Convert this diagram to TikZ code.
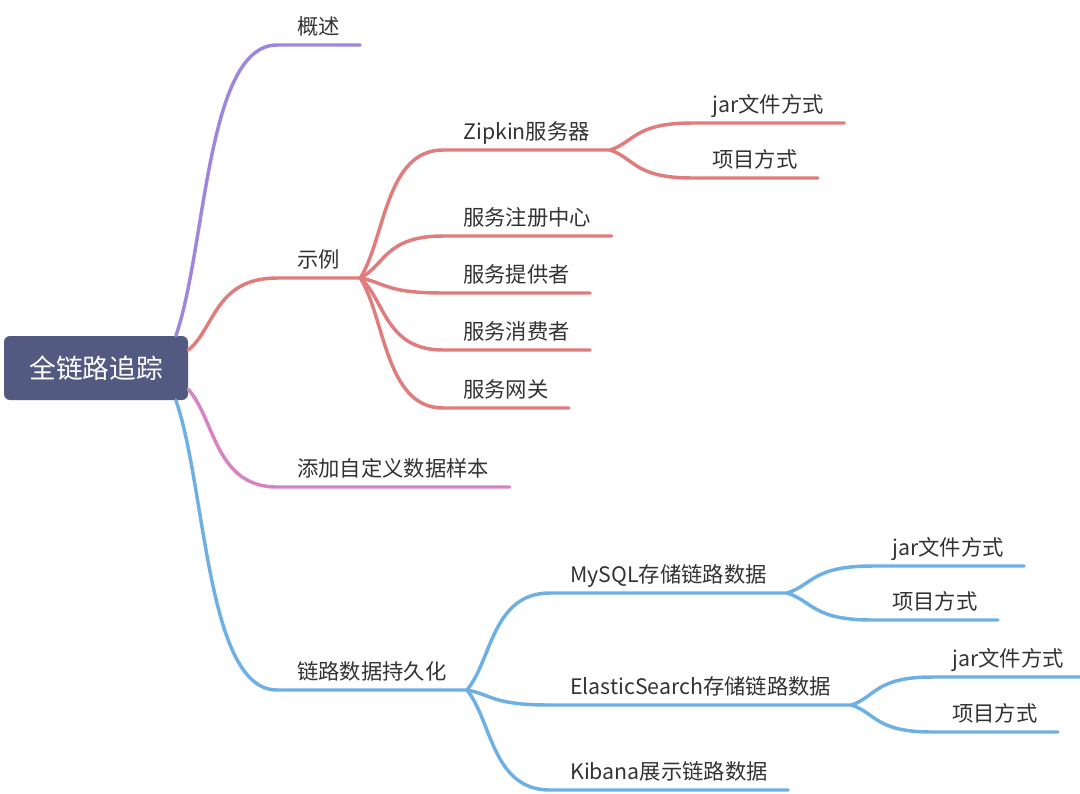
\documentclass[tikz,border=0pt]{standalone}
\usepackage{fontspec}
\setmainfont{Noto Sans CJK SC}
\usepackage{tikz}
\usetikzlibrary{calc, positioning}

\definecolor{rootblue}{RGB}{83,90,130}
\definecolor{brpurple}{RGB}{157,135,222}
\definecolor{brred}{RGB}{224,124,124}
\definecolor{brpink}{RGB}{217,130,195}
\definecolor{brblue}{RGB}{110,176,227}
\definecolor{txtgray}{RGB}{51,51,51}

\tikzset{
    % root box and the underlined topics
    rootbox/.style = {rectangle, rounded corners=4.5pt, fill=rootblue, text=white, minimum width=138pt, minimum height=48pt, font=\fontsize{20pt}{24pt}\selectfont},
    topic/.style = {anchor=south west, inner xsep=15pt, inner ysep=8pt, text depth=0pt, text=txtgray, font=\fontsize{16pt}{19pt}\selectfont},
    branch/.style = {line width=2.6pt, line cap=round, line join=round}
}

% curve from a fork point to a topic, then the topic's underline
\newcommand{\branchto}[3]{%
  \draw[branch, #1] (#2) .. controls ($(#2)!0.3!(#3.south west)$) and ($(#2 |- #3.south west)!0.3!(#3.south west)$) .. (#3.south west) -- (#3.south east);}

\begin{document}
\begin{tikzpicture}[x=0.75pt, y=-0.75pt]
\useasboundingbox (0,0) rectangle (1080,793);

\node[rootbox] (root) at (96,368) {全链路追踪};

\node[topic] (gaishu) at (277,45) {概述};
\node[topic] (shili) at (277,278) {示例};
\node[topic] (tianjia) at (277,487) {添加自定义数据样本};
\node[topic] (chijiu) at (277,690) {链路数据持久化};

\node[topic] (zipkin) at (443,150) {Zipkin服务器};
\node[topic] (zhuce) at (443,236) {服务注册中心};
\node[topic] (tigong) at (443,293) {服务提供者};
\node[topic] (xiaofei) at (443,350) {服务消费者};
\node[topic] (wangguan) at (443,408) {服务网关};

\node[topic] (zjar) at (692,123) {jar文件方式};
\node[topic] (zxm) at (692,178) {项目方式};

\node[topic] (mysql) at (550,593) {MySQL存储链路数据};
\node[topic] (es) at (550,705) {ElasticSearch存储链路数据};
\node[topic] (kibana) at (550,790) {Kibana展示链路数据};

\node[topic] (mjar) at (872,566) {jar文件方式};
\node[topic] (mxm) at (872,620) {项目方式};
\node[topic] (ejar) at (932,677) {jar文件方式};
\node[topic] (exm) at (932,732) {项目方式};

\branchto{brpurple}{root.22}{gaishu}
\branchto{brred}{root.11}{shili}
\branchto{brpink}{root.-13}{tianjia}
\branchto{brblue}{root.-22}{chijiu}

\branchto{brred}{shili.south east}{zipkin}
\branchto{brred}{shili.south east}{zhuce}
\branchto{brred}{shili.south east}{tigong}
\branchto{brred}{shili.south east}{xiaofei}
\branchto{brred}{shili.south east}{wangguan}
\branchto{brred}{zipkin.south east}{zjar}
\branchto{brred}{zipkin.south east}{zxm}

\branchto{brblue}{chijiu.south east}{mysql}
\branchto{brblue}{chijiu.south east}{es}
\branchto{brblue}{chijiu.south east}{kibana}
\branchto{brblue}{mysql.south east}{mjar}
\branchto{brblue}{mysql.south east}{mxm}
\branchto{brblue}{es.south east}{ejar}
\branchto{brblue}{es.south east}{exm}

\end{tikzpicture}
\end{document}
